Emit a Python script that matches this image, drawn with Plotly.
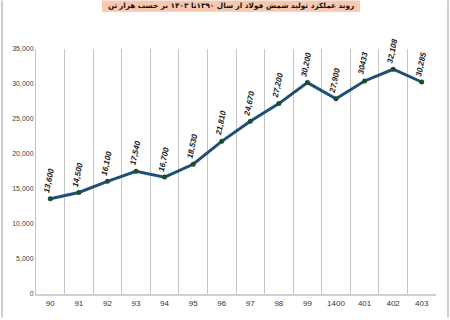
import plotly.graph_objects as go

years = ["90", "91", "92", "93", "94", "95", "96", "97", "98", "99", "1400", "401", "402", "403"]
production = [13600, 14500, 16100, 17540, 16700, 18530, 21810, 24670, 27200, 30200, 27900, 30433, 32108, 30285]
value_labels = ["13,600", "14,500", "16,100", "17,540", "16,700", "18,530", "21,810", "24,670",
                "27,200", "30,200", "27,900", "30433", "32,108", "30,285"]
title_main = "روند عملکرد تولید شمش فولاد از سال ۱۳۹۰تا ۱۴۰۳ بر حسب هزار"
title_last = "تن"

def px_x(p):
    return (p - 36) / 400

def px_y(p):
    return (296 - p) / 247

fig = go.Figure()
fig.add_trace(go.Scatter(
    x=years, y=production, mode="lines+markers",
    line=dict(color="#1f4e79", width=3),
    marker=dict(color="#1e4d2b", size=5),
    hoverinfo="skip",
))

for i, (yv, t) in enumerate(zip(production, value_labels)):
    fig.add_annotation(
        x=i, y=yv, xref="x", yref="y", text="<b><i>" + t + "</i></b>", showarrow=False, textangle=-78,
        xanchor="center", yanchor="middle", yshift=18, xshift=-1,
        font=dict(family="Liberation Sans", size=8, color="#222222"),
    )

# title box
fig.add_shape(type="rect", xref="paper", yref="paper",
              x0=px_x(102), x1=px_x(360), y0=px_y(11.5), y1=px_y(0),
              fillcolor="#f8c7b0", line=dict(width=0), layer="below")
fig.add_annotation(
    xref="paper", yref="paper", x=px_x(356), y=px_y(5.5),
    text=title_main, showarrow=False, xanchor="right", yanchor="middle",
    font=dict(family="DejaVu Sans", size=7.3, color="#111111", weight="bold"),
)
fig.add_annotation(
    xref="paper", yref="paper", x=px_x(119.5), y=px_y(5.5),
    text=title_last, showarrow=False, xanchor="right", yanchor="middle",
    font=dict(family="DejaVu Sans", size=7.3, color="#111111", weight="bold"),
)

# outer frame lines
for p in (2, 448):
    fig.add_shape(type="line", xref="paper", yref="paper",
                  x0=px_x(p), x1=px_x(p), y0=px_y(320), y1=px_y(0),
                  line=dict(color="#bdbdbd", width=1.5))

fig.update_layout(
    width=450, height=320,
    margin=dict(l=36, r=14, t=49, b=24),
    paper_bgcolor="white", plot_bgcolor="white",
    showlegend=False,
    font=dict(family="Liberation Sans"),
)
fig.update_xaxes(
    type="category", tickson="boundaries", showgrid=True,
    gridcolor="#c4c4c4", gridwidth=1,
    showline=True, linecolor="#d0d0d0", linewidth=2,
    ticks="", tickfont=dict(size=8, color="#333333"),
    range=[-0.5, 13.5], fixedrange=True,
)
fig.update_yaxes(
    range=[0, 35000], dtick=5000, tickformat=",",
    showgrid=False, zeroline=False,
    showline=True, linecolor="#c4c4c4", linewidth=1,
    ticks="", tickfont=dict(size=7, color="#444444"),
)

fig.write_html("out.html")
